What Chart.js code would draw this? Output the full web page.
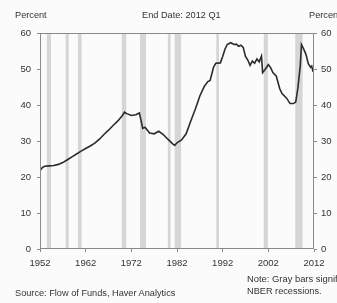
<!DOCTYPE html>
<html>
<head>
<meta charset="utf-8">
<script src="https://cdn.jsdelivr.net/npm/chart.js@4"></script>
<style>
    html, body {
        margin: 0;
        padding: 0;
        background: #fbfbfb;
        overflow: hidden;
    }
    .wrap {
        position: relative;
        width: 337px;
        height: 303px;
        overflow: hidden;
        font-family: "Liberation Sans", Arial, sans-serif;
        font-size: 9.2px;
        color: #333;
    }
    .txt {
        position: absolute;
        white-space: nowrap;
        line-height: 12px;
    }
    canvas {
        position: absolute;
        left: 0;
        top: 0;
    }
</style>
</head>
<body>
<div class="wrap">
    <canvas id="chart" width="337" height="303"></canvas>
    <div class="txt" style="left:15px;top:9px;">Percent</div>
    <div class="txt" style="left:142px;top:9px;">End Date: 2012 Q1</div>
    <div class="txt" style="left:309px;top:9px;">Percent</div>
    <div class="txt" style="left:247px;top:273px;font-size:9.4px;">Note: Gray bars signify</div>
    <div class="txt" style="left:247px;top:285px;">NBER recessions.</div>
    <div class="txt" style="left:15px;top:287px;">Source: Flow of Funds, Haver Analytics</div>
</div>

<script>
// share series (percent)
const years = [
    1952.0, 1952.5, 1953, 1954, 1955, 1956, 1957, 1958, 1959, 1960,
    1961, 1962, 1963, 1964, 1965, 1966, 1967, 1968, 1969, 1970,
    1970.5, 1971, 1972, 1973, 1973.75, 1974.25, 1974.5, 1975, 1976, 1977,
    1978, 1979, 1980, 1981, 1981.5, 1982, 1983, 1984, 1985, 1986,
    1987, 1988, 1988.75, 1989.25, 1990, 1990.5, 1991.5, 1992, 1992.5, 1993,
    1993.75, 1994.5, 1995, 1995.5, 1996, 1996.5, 1997, 1997.5, 1998, 1998.5,
    1999, 1999.5, 2000, 2000.5, 2000.75, 2001.25, 2002, 2002.5, 2003, 2003.75,
    2004.5, 2005, 2006, 2006.75, 2007.5, 2008, 2008.5, 2009, 2009.25, 2009.75,
    2010.25, 2010.75, 2011.25, 2011.5, 2011.75, 2012
];

const share = [
    21.8, 22.6, 23.0, 23.1, 23.2, 23.5, 24.0, 24.8, 25.6, 26.4,
    27.2, 27.9, 28.6, 29.4, 30.5, 31.8, 33.0, 34.3, 35.5, 37.0,
    38.0, 37.6, 37.1, 37.3, 37.8, 35.0, 33.5, 33.8, 32.2, 32.0,
    32.7, 31.8, 30.5, 29.3, 28.8, 29.5, 30.3, 32.0, 35.5, 38.8,
    42.5, 45.2, 46.5, 46.8, 50.5, 51.6, 51.7, 53.5, 55.5, 56.8,
    57.3, 56.8, 56.9, 56.3, 56.6, 56.0, 53.5, 52.5, 51.0, 52.2,
    51.6, 52.8, 52.0, 53.6, 49.0, 49.8, 51.2, 50.4, 49.0, 48.0,
    44.5, 43.2, 41.9, 40.4, 40.4, 40.8, 45.0, 51.0, 56.8, 55.5,
    54.0, 51.5, 50.5, 50.8, 49.4, 49.3
];

// NBER recessions (start, end) in decimal years
const recStart = [1953.5, 1957.6, 1960.3, 1969.9, 1973.9, 1980.0, 1981.5, 1990.6, 2001.0, 2007.9];
const recEnd   = [1954.4, 1958.3, 1961.1, 1970.9, 1975.2, 1980.6, 1982.9, 1991.2, 2001.9, 2009.5];

const xTicks = [1952, 1962, 1972, 1982, 1992, 2002, 2012];
const yTicks = [0, 10, 20, 30, 40, 50, 60];

const FONT = "'Liberation Sans', Arial, sans-serif";

const recessionBars = {
    id: "recessionBars",
    beforeDatasetsDraw(chart) {
        const ctx = chart.ctx;
        const area = chart.chartArea;
        const x = chart.scales.x;
        ctx.save();
        ctx.fillStyle = "#d6d6d6";
        for (let i = 0; i < recStart.length; i++) {
            const x0 = x.getPixelForValue(recStart[i]);
            const x1 = x.getPixelForValue(recEnd[i]);
            ctx.fillRect(x0, area.top, x1 - x0, area.bottom - area.top);
        }
        ctx.restore();
    },
    afterDatasetsDraw(chart) {
        const ctx = chart.ctx;
        const a = chart.chartArea;
        ctx.save();
        ctx.strokeStyle = "#8a8a8a";
        ctx.lineWidth = 1;
        ctx.strokeRect(a.left + 0.5, a.top + 0.5, a.right - a.left - 1, a.bottom - a.top - 1);
        ctx.restore();
    }
};

function fixTicks(list) {
    return function (scale) {
        scale.ticks = list.map(v => ({ value: v }));
    };
}

new Chart(
    document.getElementById("chart").getContext("2d"),
{
    type: "line",
    data: {
        datasets: [{
            data: years.map((x, i) => ({ x: x, y: share[i] })),
            borderColor: "#2b2b2b",
            borderWidth: 1.6,
            pointRadius: 0,
            tension: 0,
            fill: false
        }]
    },
    options: {
        responsive: false,
        animation: false,
        layout: {
            padding: { top: 33, left: 0, right: 0, bottom: 0 }
        },
        plugins: {
            legend: { display: false },
            tooltip: { enabled: false }
        },
        scales: {
            x: {
                type: "linear",
                min: 1952,
                max: 2012,
                afterBuildTicks: fixTicks(xTicks),
                afterFit(scale) { scale.height = 54; },
                grid: {
                    display: true,
                    drawOnChartArea: false,
                    drawTicks: true,
                    tickLength: 3,
                    color: "#8a8a8a"
                },
                border: { display: false },
                ticks: {
                    maxRotation: 0,
                    autoSkip: false,
                    padding: 6,
                    color: "#333",
                    font: { family: FONT, size: 9.5 },
                    callback: v => String(v)
                }
            },
            y: {
                position: "left",
                min: 0,
                max: 60,
                afterBuildTicks: fixTicks(yTicks),
                afterFit(scale) { scale.width = 40; },
                grid: {
                    drawOnChartArea: false,
                    tickLength: 3,
                    color: "#8a8a8a"
                },
                border: { display: false },
                ticks: {
                    padding: 6,
                    color: "#333",
                    font: { family: FONT, size: 9.5 }
                }
            },
            y2: {
                position: "right",
                min: 0,
                max: 60,
                afterBuildTicks: fixTicks(yTicks),
                afterFit(scale) { scale.width = 23; },
                grid: {
                    drawOnChartArea: false,
                    tickLength: 3,
                    color: "#8a8a8a"
                },
                border: { display: false },
                ticks: {
                    padding: 4,
                    color: "#333",
                    font: { family: FONT, size: 9.5 }
                }
            }
        }
    },
    plugins: [recessionBars]
});
</script>
</body>
</html>
